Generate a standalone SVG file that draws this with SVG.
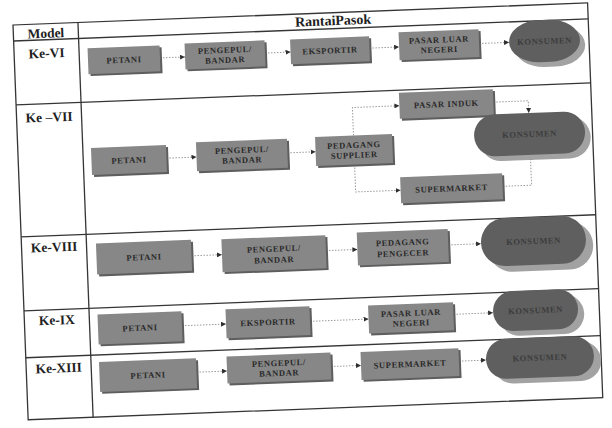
<svg xmlns="http://www.w3.org/2000/svg" width="612" height="428" viewBox="0 0 612 428">
<style>
.grid{fill:none;stroke:#353535;stroke-width:1.3}
.hd{font-family:"Liberation Serif",serif;font-weight:bold;font-size:13.5px;fill:#1e1e1e;text-anchor:middle}
.box{fill:#878787}
.sh{fill:#5e5e5e}
.ov{fill:#5f5f5f}
.ovs{fill:#a2a2a2}
.lb{font-family:"Liberation Serif",serif;font-weight:bold;font-size:8.5px;letter-spacing:0.6px;fill:#2a2a2a;text-anchor:middle}
.lbo{font-family:"Liberation Serif",serif;font-weight:bold;font-size:8.5px;letter-spacing:0.6px;fill:#3c3c3c;text-anchor:middle}
.cn{fill:none;stroke:#9a9a9a;stroke-width:1;stroke-dasharray:1.5 1.5;marker-end:url(#ah)}
</style>
<defs>
<marker id="ah" viewBox="0 0 6 6" refX="6" refY="3" markerWidth="5" markerHeight="5" orient="auto" markerUnits="userSpaceOnUse">
<path d="M0,0 L6,3 L0,6 z" fill="#2e2e2e"/>
</marker>
</defs>
<rect width="612" height="428" fill="#ffffff"/>
<g transform="translate(13,25) rotate(-2.2)">
<g id="table">
<rect class="grid" x="0" y="0" width="575" height="395"/>
<line class="grid" x1="65" y1="0" x2="65" y2="395"/>
<line class="grid" x1="0" y1="16" x2="575" y2="16"/>
<line class="grid" x1="0" y1="80" x2="575" y2="80"/>
<line class="grid" x1="0" y1="212" x2="575" y2="212"/>
<line class="grid" x1="0" y1="286" x2="575" y2="286"/>
<line class="grid" x1="0" y1="333" x2="575" y2="333"/>
<text class="hd" x="32.5" y="14">Model</text>
<text class="hd" x="320" y="12.5" style="font-size:14px">RantaiPasok</text>
<text class="hd" x="32.5" y="34">Ke-VI</text>
<text class="hd" x="32.5" y="98">Ke –VII</text>
<text class="hd" x="32.5" y="228">Ke-VIII</text>
<text class="hd" x="32.5" y="301">Ke-IX</text>
<text class="hd" x="32.5" y="349">Ke-XIII</text>
</g>
<g id="connectors">
<line class="cn" x1="145.6" y1="38.5" x2="170.7" y2="38.5"/>
<line class="cn" x1="250.7" y1="37.7" x2="276.3" y2="37.7"/>
<line class="cn" x1="355.3" y1="36.8" x2="385" y2="36.8"/>
<line class="cn" x1="465" y1="36.4" x2="495" y2="36.4"/>
<line class="cn" x1="148.2" y1="139" x2="178.3" y2="139"/>
<line class="cn" x1="269.3" y1="138.3" x2="297.5" y2="138.3"/>
<path class="cn" d="M336,123.5 V95.5 H383"/>
<path class="cn" d="M336,152.5 V180 H381"/>
<path class="cn" d="M477,95.5 H512 V107.7"/>
<path class="cn" d="M483,180 H512 V149.7"/>
<line class="cn" x1="169.5" y1="237.5" x2="200" y2="237.5"/>
<line class="cn" x1="304" y1="237.5" x2="335.5" y2="237.5"/>
<line class="cn" x1="426.5" y1="236.5" x2="459.3" y2="236.5"/>
<line class="cn" x1="157.3" y1="307" x2="201.4" y2="307"/>
<line class="cn" x1="285.4" y1="307.5" x2="344" y2="307.5"/>
<line class="cn" x1="429" y1="306" x2="468.7" y2="306"/>
<line class="cn" x1="170" y1="354" x2="200.6" y2="354"/>
<line class="cn" x1="304.6" y1="353.5" x2="334.7" y2="353.5"/>
<line class="cn" x1="432.7" y1="353" x2="459.8" y2="353"/>
</g>
<!-- Ke-VI -->
<g id="n6_petani" transform="translate(109.6,39)"><rect class="sh" x="-34" y="-11" width="72" height="26"/><rect class="box" x="-36" y="-13" width="72" height="26"/><text class="lb" y="3">PETANI</text></g>
<g id="n6_pengepul" transform="translate(210.7,38)"><rect class="sh" x="-38" y="-11" width="80" height="26"/><rect class="box" x="-40" y="-13" width="80" height="26"/><text class="lb" y="-2">PENGEPUL/</text><text class="lb" y="8">BANDAR</text></g>
<g id="n6_eksportir" transform="translate(315.8,37.5)"><rect class="sh" x="-37.5" y="-10.5" width="79" height="25"/><rect class="box" x="-39.5" y="-12.5" width="79" height="25"/><text class="lb" y="3">EKSPORTIR</text></g>
<g id="n6_pasar" transform="translate(425,36)"><rect class="sh" x="-38" y="-12" width="80" height="28"/><rect class="box" x="-40" y="-14" width="80" height="28"/><text class="lb" y="-2">PASAR LUAR</text><text class="lb" y="8">NEGERI</text></g>
<g id="n6_konsumen" transform="translate(530.5,36.4)"><rect class="ovs" x="-30.5" y="-16" width="71" height="42" rx="30" ry="21"/><rect class="ov" x="-35.5" y="-21" width="71" height="42" rx="30" ry="21"/><text class="lbo" y="3">KONSUMEN</text></g>
<!-- Ke-VII -->
<g id="n7_petani" transform="translate(110.7,139.4)"><rect class="sh" x="-35.5" y="-11.5" width="75" height="27"/><rect class="box" x="-37.5" y="-13.5" width="75" height="27"/><text class="lb" y="3">PETANI</text></g>
<g id="n7_pengepul" transform="translate(223.8,138.7)"><rect class="sh" x="-43.5" y="-12.5" width="91" height="29"/><rect class="box" x="-45.5" y="-14.5" width="91" height="29"/><text class="lb" y="-2">PENGEPUL/</text><text class="lb" y="8">BANDAR</text></g>
<g id="n7_pedagang" transform="translate(336,138)"><rect class="sh" x="-36.5" y="-12.5" width="77" height="29"/><rect class="box" x="-38.5" y="-14.5" width="77" height="29"/><text class="lb" y="-2">PEDAGANG</text><text class="lb" y="8">SUPPLIER</text></g>
<g id="n7_pasarinduk" transform="translate(430,95.5)"><rect class="sh" x="-45" y="-11" width="94" height="26"/><rect class="box" x="-47" y="-13" width="94" height="26"/><text class="lb" y="3">PASAR INDUK</text></g>
<g id="n7_supermarket" transform="translate(432,180)"><rect class="sh" x="-49" y="-11" width="102" height="26"/><rect class="box" x="-51" y="-13" width="102" height="26"/><text class="lb" y="3">SUPERMARKET</text></g>
<g id="n7_konsumen" transform="translate(512,128.7)"><rect class="ovs" x="-50" y="-16" width="111" height="42" rx="21" ry="21"/><rect class="ov" x="-55.5" y="-21" width="111" height="42" rx="21" ry="21"/><text class="lbo" y="3">KONSUMEN</text></g>
<!-- Ke-VIII -->
<g id="n8_petani" transform="translate(122,237)"><rect class="sh" x="-45.5" y="-13.5" width="95" height="31"/><rect class="box" x="-47.5" y="-15.5" width="95" height="31"/><text class="lb" y="3">PETANI</text></g>
<g id="n8_pengepul" transform="translate(252,238.5)"><rect class="sh" x="-50" y="-14.5" width="104" height="33"/><rect class="box" x="-52" y="-16.5" width="104" height="33"/><text class="lb" y="-2">PENGEPUL/</text><text class="lb" y="9">BANDAR</text></g>
<g id="n8_pedagang" transform="translate(381,237)"><rect class="sh" x="-43.5" y="-14.5" width="91" height="33"/><rect class="box" x="-45.5" y="-16.5" width="91" height="33"/><text class="lb" y="-2">PEDAGANG</text><text class="lb" y="9">PENGECER</text></g>
<g id="n8_konsumen" transform="translate(511.8,235.8)"><rect class="ovs" x="-45.5" y="-18" width="105" height="48" rx="24" ry="24"/><rect class="ov" x="-52.5" y="-24" width="105" height="48" rx="24" ry="24"/><text class="lbo" y="3">KONSUMEN</text></g>
<!-- Ke-IX -->
<g id="n9_petani" transform="translate(115.3,307.5)"><rect class="sh" x="-40" y="-13" width="84" height="30"/><rect class="box" x="-42" y="-15" width="84" height="30"/><text class="lb" y="3">PETANI</text></g>
<g id="n9_eksportir" transform="translate(243.4,306.8)"><rect class="sh" x="-40" y="-12.5" width="84" height="29"/><rect class="box" x="-42" y="-14.5" width="84" height="29"/><text class="lb" y="3">EKSPORTIR</text></g>
<g id="n9_pasar" transform="translate(386.5,308)"><rect class="sh" x="-40.5" y="-12" width="85" height="28"/><rect class="box" x="-42.5" y="-14" width="85" height="28"/><text class="lb" y="-2">PASAR LUAR</text><text class="lb" y="8">NEGERI</text></g>
<g id="n9_konsumen" transform="translate(511.2,305)"><rect class="ovs" x="-36.5" y="-15" width="85" height="40" rx="20" ry="20"/><rect class="ov" x="-42.5" y="-20" width="85" height="40" rx="20" ry="20"/><text class="lbo" y="3">KONSUMEN</text></g>
<!-- Ke-XIII -->
<g id="n13_petani" transform="translate(121.5,355)"><rect class="sh" x="-46.5" y="-13" width="97" height="30"/><rect class="box" x="-48.5" y="-15" width="97" height="30"/><text class="lb" y="3">PETANI</text></g>
<g id="n13_pengepul" transform="translate(252.6,353)"><rect class="sh" x="-50" y="-11.5" width="104" height="27"/><rect class="box" x="-52" y="-13.5" width="104" height="27"/><text class="lb" y="-2">PENGEPUL/</text><text class="lb" y="8">BANDAR</text></g>
<g id="n13_supermarket" transform="translate(383.7,354)"><rect class="sh" x="-47" y="-12" width="98" height="28"/><rect class="box" x="-49" y="-14" width="98" height="28"/><text class="lb" y="3">SUPERMARKET</text></g>
<g id="n13_konsumen" transform="translate(513.8,352.5)"><rect class="ovs" x="-47" y="-15" width="108" height="40" rx="20" ry="20"/><rect class="ov" x="-54" y="-20" width="108" height="40" rx="20" ry="20"/><text class="lbo" y="3">KONSUMEN</text></g>
</g>
</svg>
